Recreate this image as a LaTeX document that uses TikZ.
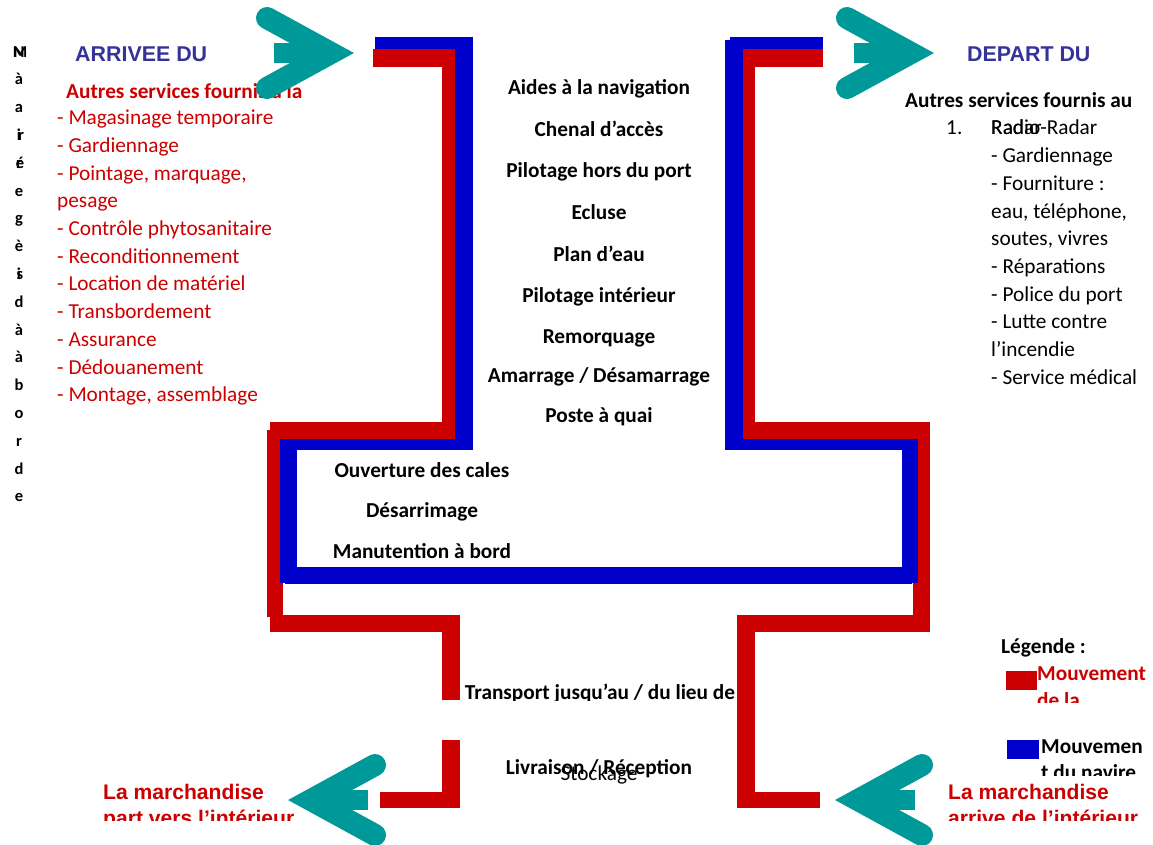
\documentclass[tikz,border=0pt]{standalone}
\usepackage{fontspec}
\setmainfont{Carlito}
\newfontfamily\arialf{Liberation Sans}
\usetikzlibrary{calc}
\definecolor{pred}{RGB}{204,0,0}
\definecolor{pblue}{RGB}{0,0,204}
\definecolor{pteal}{RGB}{0,153,153}
\definecolor{ptitle}{RGB}{51,51,153}
\begin{document}
\begin{tikzpicture}[x=1pt,y=-1pt,
  lbl/.style={font=\bfseries\fontsize{21.3}{25}\selectfont, inner sep=0, anchor=base},
  item/.style={font=\fontsize{21.3}{25}\selectfont, inner sep=0, anchor=base west},
  bitem/.style={font=\bfseries\fontsize{21.3}{25}\selectfont, inner sep=0, anchor=base west},
  ttl/.style={font=\arialf\bfseries\fontsize{21.4}{25}\selectfont, text=ptitle, inner sep=0, anchor=base west},
  mtxt/.style={font=\arialf\bfseries\fontsize{21.1}{25}\selectfont, text=pred, inner sep=0, anchor=base west},
  vch/.style={font=\bfseries\fontsize{16.5}{18}\selectfont, inner sep=0, anchor=base},
  chev/.pic={
    \draw[pteal, line width=22pt, line cap=round, line join=miter] (-86,-35) -- (-22,0) -- (-86,35);
    \fill[pteal] (-79,-10) rectangle (-30,10);
  }]
\useasboundingbox (0,0) rectangle (1153,844);
\fill[white] (0,0) rectangle (1153,844);

% ---------- red (goods) ----------
\fill[pred] (373,49) rectangle (455,67);
\fill[pred] (442,49) rectangle (455,437);
\fill[pred] (270,422) rectangle (457,439);
\fill[pred] (267,430) rectangle (283,617);
\fill[pred] (270,615) rectangle (460,632);
\fill[pred] (442,615) rectangle (460,700);
\fill[pred] (442,740) rectangle (460,808);
\fill[pred] (380,792) rectangle (460,808);
\fill[pred] (741,49) rectangle (823,67);
\fill[pred] (743,49) rectangle (755,437);
\fill[pred] (741,422) rectangle (930,439);
\fill[pred] (913,430) rectangle (930,617);
\fill[pred] (738,615) rectangle (930,632);
\fill[pred] (737,615) rectangle (755,808);
\fill[pred] (740,792) rectangle (820,808);

% ---------- blue (ship) ----------
\fill[pblue] (375,37) rectangle (470,49);
\fill[pblue] (455,37) rectangle (473,450);
\fill[pblue] (283,439) rectangle (470,450);
\fill[pblue] (280,439) rectangle (297,583);
\fill[pblue] (285,567) rectangle (912,584);
\fill[pblue] (902,439) rectangle (918,583);
\fill[pblue] (725,439) rectangle (912,450);
\fill[pblue] (725,40) rectangle (743,450);
\fill[pblue] (730,37) rectangle (823,49);

% ---------- vertical letters ----------
\foreach \c [count=\i] in {N,à,a,i,r,e,g,è,i,d,à,à,b,o,r,d,e}
  \node[vch] (v\i) at (19,{57+27.8*(\i-1)}) {\c};
\node[vch] (vm1) at (20,57) {M};
\node[vch] (vm4) at (21,{57+27.8*3}) {r};
\node[vch] (vm5) at (20,{57+27.8*4}) {é};
\node[vch] (vm9) at (20,{57+27.8*8}) {s};

% ---------- left texts ----------
\node[ttl] (arr) at (75,61) {ARRIVEE DU};
\node[bitem, text=pred] (lhead) at (66,98) {Autres services fournis à la};
\foreach \t/\y [count=\i] in {- Magasinage temporaire/124, - Gardiennage/152, {- Pointage, marquage,}/180, pesage/207, - Contrôle phytosanitaire/235, - Reconditionnement/263, - Location de matériel/290, - Transbordement/318, - Assurance/346, - Dédouanement/374, {- Montage, assemblage}/401}
  \node[item, text=pred] (l\i) at (57,\y) {\t};

% ---------- center labels ----------
\node[lbl] (c1) at (599,94) {Aides à la navigation};
\node[lbl] (c2) at (599,136) {Chenal d’accès};
\node[lbl] (c3) at (599,177) {Pilotage hors du port};
\node[lbl] (c4) at (599,219) {Ecluse};
\node[lbl] (c5) at (599,261) {Plan d’eau};
\node[lbl] (c6) at (599,302) {Pilotage intérieur};
\node[lbl] (c7) at (599,343) {Remorquage};
\node[lbl] (c8) at (599,382) {Amarrage / Désamarrage};
\node[lbl] (c9) at (599,422) {Poste à quai};
\node[lbl] (d1) at (422,477) {Ouverture des cales};
\node[lbl] (d2) at (422,517) {Désarrimage};
\node[lbl] (d3) at (422,558) {Manutention à bord};
\begin{scope}
  \clip (440,660) rectangle (760,700);
  \node[lbl] (tr) at (600,699) {Transport jusqu’au / du lieu de};
\end{scope}
\node[lbl] (liv) at (599,774) {Livraison / Réception};
\node[font=\fontsize{21.3}{25}\selectfont, inner sep=0, anchor=base] (sto) at (599,780) {Stockage};

% ---------- right texts ----------
\node[ttl] (dep) at (967,61) {DEPART DU};
\node[bitem] (rhead) at (905,107) {Autres services fournis au};
\node[item] (n1) at (946,134) {1.};
\node[item] (r0) at (991,134) {Radio-Radar};
\node[item] (r0b) at (991,134) {Radar};
\foreach \t/\y [count=\i] in {- Gardiennage/162, - Fourniture :/190, {eau, téléphone,}/218, {soutes, vivres}/245, - Réparations/273, - Police du port/301, - Lutte contre/328, l’incendie/356, - Service médical/384}
  \node[item] (r\i) at (991,\y) {\t};

% ---------- legend ----------
\node[bitem] (leg) at (1001,653) {Légende :};
\fill[pred] (1006,671) rectangle (1037,690);
\fill[pblue] (1007,740) rectangle (1039,759);
\node[bitem, text=pred] (lg1) at (1037,680) {Mouvement};
\begin{scope}
  \clip (1030,685) rectangle (1153,702);
  \node[bitem, text=pred] (lg1b) at (1037,707) {de la};
\end{scope}
\node[bitem] (lg2) at (1041,753) {Mouvemen};
\begin{scope}
  \clip (1030,758) rectangle (1153,775);
  \node[bitem] (lg2b) at (1041,779) {t du navire};
\end{scope}

% ---------- goods texts ----------
\node[mtxt] (ml) at (103,799) {La marchandise};
\node[mtxt] (mr) at (948,799) {La marchandise};
\begin{scope}
  \clip (90,804) rectangle (320,820);
  \node[mtxt] (ml2) at (103,825) {part vers l’intérieur};
\end{scope}
\begin{scope}
  \clip (940,804) rectangle (1153,820);
  \node[mtxt] (mr2) at (948,825) {arrive de l’intérieur};
\end{scope}

% ---------- arrows ----------
\pic at (353,53) {chev};
\pic at (933,53) {chev};
\pic[xscale=-1] at (289,800) {chev};
\pic[xscale=-1] at (836,800) {chev};
\end{tikzpicture}
\end{document}
